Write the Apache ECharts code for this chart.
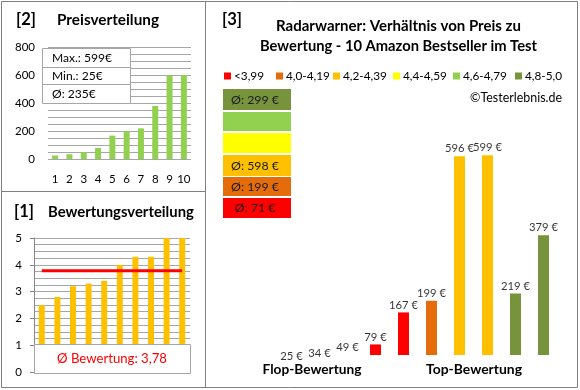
<!DOCTYPE html>
<html><head><meta charset="utf-8">
<script src="https://cdn.jsdelivr.net/npm/echarts@6/dist/echarts.min.js"></script>
<style>html,body{margin:0;padding:0;background:#fff}#c{width:580px;height:390px}</style>
</head><body><div id="c"></div>
<script>
// ---- data ----
const rankLabels = ['1','2','3','4','5','6','7','8','9','10'];
const pricesSorted = [25, 34, 49, 79, 167, 199, 219, 379, 596, 599];
const ratingsSorted = [2.5, 2.8, 3.2, 3.3, 3.4, 4.0, 4.3, 4.3, 5.0, 5.0];
const mainPrices = [25, 34, 49, 79, 167, 199, 596, 599, 219, 379];
const mainRatings = [2.5, 2.8, 3.2, 3.3, 3.4, 4.0, 4.3, 4.3, 5.0, 5.0];
const bandNames = ['<3,99', '4,0-4,19', '4,2-4,39', '4,4-4,59', '4,6-4,79', '4,8-5,0'];
const bandLower = [0, 4.0, 4.2, 4.4, 4.6, 4.8];
const bandColors = ['#FF0000', '#E46C0A', '#FFC000', '#FFFF00', '#92D050', '#77933C'];
const priceTicks = [0, 200, 400, 600, 800];
const ratingTicks = [0, 1, 2, 3, 4, 5];

// ---- derived ----
function bandOf(r){ let b=0; for(let i=0;i<bandLower.length;i++){ if(r>=bandLower[i]-1e-9) b=i; } return b; }
const pMax = Math.max(...pricesSorted), pMin = Math.min(...pricesSorted);
const pAvg = Math.round(pricesSorted.reduce((a,b)=>a+b,0)/pricesSorted.length);
const rAvg = ratingsSorted.reduce((a,b)=>a+b,0)/ratingsSorted.length;
const bandAvg = bandNames.map((n,bi)=>{
  const vals = mainPrices.filter((v,i)=>bandOf(mainRatings[i])===bi);
  return vals.length ? Math.round(vals.reduce((a,b)=>a+b,0)/vals.length) : null;
});

const FONT = 'Lato, "Open Sans", sans-serif';
const mctx = document.createElement('canvas').getContext('2d');
function fit(text, weight, target){
  mctx.font = weight + ' 100px ' + FONT;
  const w = mctx.measureText(text).width;
  return Math.round(10000*target/w)/100;
}
const GRID_LINE = '#a6a6a6';
const fsAxis = Math.min(13.3, fit('800', 'normal', 20));
const fsData = Math.min(13.3, fit('199 €', 'normal', 29));
const fsLegend = Math.min(13.3, fit('4,0-4,19', 'normal', 44));

const chart = echarts.init(document.getElementById('c'), null, {renderer:'canvas'});

// graphic elements
const g = [];
g.push({type:'rect', shape:{x:1.5,y:1.5,width:576,height:386}, style:{fill:'none',stroke:'#808080',lineWidth:1}, z:100});
g.push({type:'line', shape:{x1:205.5,y1:1,x2:205.5,y2:388}, style:{stroke:'#808080',lineWidth:1}, z:100});
g.push({type:'line', shape:{x1:1,y1:191.5,x2:205,y2:191.5}, style:{stroke:'#808080',lineWidth:1}, z:100});
function txt(x,y,t,weight,target,opt){
  const fs = fit(t, weight, target);
  g.push({type:'text', x:x, y:y, z:100, style:Object.assign({text:t, fill:'#000', font:weight+' '+fs+'px '+FONT, textVerticalAlign:'middle', textAlign:'left'}, opt||{})});
}
txt(16, 20, '[2]', 'bold', 20);
txt(57, 20, 'Preisverteilung', 'bold', 102);
txt(14, 212, '[1]', 'bold', 20);
txt(48, 212, 'Bewertungsverteilung', 'bold', 146);
txt(222, 20, '[3]', 'bold', 20);
txt(398.5, 26, 'Radarwarner: Verhältnis von Preis zu', 'bold', 245, {textAlign:'center'});
txt(398.5, 46, 'Bewertung - 10 Amazon Bestseller im Test', 'bold', 277, {textAlign:'center'});
txt(562, 98, '©Testerlebnis.de', 'normal', 92, {textAlign:'right'});
txt(312, 370, 'Flop-Bewertung', 'bold', 99, {textAlign:'center'});
txt(474, 370, 'Top-Bewertung', 'bold', 96, {textAlign:'center'});
// price stats box
g.push({type:'rect', shape:{x:42.5,y:48.5,width:88,height:55}, style:{fill:'#fff',stroke:GRID_LINE,lineWidth:1}, z:90});
g.push({type:'line', shape:{x1:42.5,y1:67.5,x2:130.5,y2:67.5}, style:{stroke:GRID_LINE,lineWidth:1}, z:91});
g.push({type:'line', shape:{x1:42.5,y1:84.5,x2:130.5,y2:84.5}, style:{stroke:GRID_LINE,lineWidth:1}, z:91});
const fsBox = fit('Max.: 599€', 'normal', 60);
function boxTxt(x,y,t,opt){ g.push({type:'text', x:x, y:y, z:100, style:Object.assign({text:t, fill:'#000', font:fsBox+'px '+FONT, textVerticalAlign:'middle'}, opt||{})}); }
boxTxt(52, 58.5, 'Max.: ' + pMax + '€');
boxTxt(52, 76.5, 'Min.: ' + pMin + '€');
boxTxt(52, 94.5, 'Ø: ' + pAvg + '€');
// rating avg box
g.push({type:'rect', shape:{x:34.5,y:344.5,width:156,height:29}, style:{fill:'#fff',stroke:GRID_LINE,lineWidth:1}, z:90});
txt(112, 359, 'Ø Bewertung: ' + rAvg.toFixed(2).replace('.', ','), 'normal', 110, {fill:'#FF0000', textAlign:'center'});
// band average boxes (top = best band)
const boxTops = [198, 177, 155, 133, 112, 89];
const boxH = [20, 19, 21, 20, 19, 21];
const fsBand = fit('Ø: 299 €', 'normal', 48);
for (let bi = bandNames.length-1; bi >= 0; bi--) {
  g.push({type:'rect', shape:{x:223,y:boxTops[bi],width:68,height:boxH[bi]}, style:{fill:bandColors[bi]}, z:90});
  if (bandAvg[bi] !== null) g.push({type:'text', x:255, y:boxTops[bi]+boxH[bi]/2+0.5, z:100,
    style:{text:'Ø: ' + bandAvg[bi] + ' €', font:fsBand+'px '+FONT, textAlign:'center', textVerticalAlign:'middle', fill:'#1a1a1a'}});
}

const axLabel = {color:'#000', fontFamily:FONT, fontSize:fsAxis};
const legendLefts = [224, 276, 333, 393, 453, 515];

const option = {
  animation:false,
  backgroundColor:'#fff',
  textStyle:{fontFamily:FONT},
  legend: bandNames.map((n,bi)=>({
    left:legendLefts[bi], top:70, icon:'rect', itemWidth:7, itemHeight:7, itemGap:0, padding:0,
    textStyle:{color:'#000', fontFamily:FONT, fontSize:fsLegend, padding:[0,0,0,-2]},
    data:[n], selectedMode:false
  })),
  grid:[
    {left:48, top:47, width:143, height:112},
    {left:34, top:238, width:156, height:134},
    {left:277.5, top:118.4, width:280, height:236.6}
  ],
  xAxis:[
    {gridIndex:0, type:'category', data:rankLabels, axisLine:{show:false}, axisTick:{show:false}, axisLabel:Object.assign({margin:15, interval:0}, axLabel)},
    {gridIndex:1, type:'category', data:rankLabels, axisLine:{show:false}, axisTick:{show:false}, axisLabel:{show:false}},
    {gridIndex:2, type:'category', data:rankLabels, show:false}
  ],
  yAxis:[
    {gridIndex:0, type:'value', min:priceTicks[0], max:priceTicks[priceTicks.length-1], interval:priceTicks[1]-priceTicks[0],
     axisLine:{show:false}, axisTick:{show:false}, axisLabel:Object.assign({margin:13}, axLabel),
     splitLine:{show:true, lineStyle:{color:GRID_LINE, width:1}},
     minorTick:{show:false, splitNumber:4}, minorSplitLine:{show:true, lineStyle:{color:GRID_LINE, width:1}}},
    {gridIndex:1, type:'value', min:ratingTicks[0], max:ratingTicks[ratingTicks.length-1], interval:1,
     axisLine:{show:true, lineStyle:{color:'#868686'}}, axisTick:{show:true, length:4, lineStyle:{color:'#868686'}}, axisLabel:Object.assign({margin:12}, axLabel),
     splitLine:{show:true, lineStyle:{color:GRID_LINE, width:1}},
     minorTick:{show:false, splitNumber:4}, minorSplitLine:{show:true, lineStyle:{color:GRID_LINE, width:1}}},
    {gridIndex:2, type:'value', min:50, max:700, show:false, splitLine:{show:false}}
  ],
  series:[
    {type:'bar', xAxisIndex:0, yAxisIndex:0, data:pricesSorted, barWidth:6, itemStyle:{color:'#92D050'}, silent:true},
    {type:'bar', xAxisIndex:1, yAxisIndex:1, data:ratingsSorted, barWidth:6, itemStyle:{color:'#FFC000'}, silent:true},
    {type:'line', xAxisIndex:1, yAxisIndex:1, data:ratingsSorted.map(()=>+rAvg.toFixed(2)), symbol:'none', lineStyle:{color:'#FF0000', width:3}, silent:true, z:5},
    {type:'bar', xAxisIndex:2, yAxisIndex:2, barWidth:11, silent:true,
     data: mainPrices.map((v,i)=>({value:v, itemStyle:{color:bandColors[bandOf(mainRatings[i])]}}))},
    {type:'scatter', xAxisIndex:2, yAxisIndex:2, data:mainPrices, symbolSize:0, clip:false, silent:true,
     label:{show:true, position:'top', distance:2, color:'#000', fontFamily:FONT, fontSize:fsData, formatter:p=>p.value+' €'}}
  ].concat(bandNames.map((n,bi)=>({type:'line', name:n, xAxisIndex:2, yAxisIndex:2, data:[], color:bandColors[bi], itemStyle:{color:bandColors[bi]}}))),
  graphic: g
};
chart.setOption(option);
</script></body></html>
